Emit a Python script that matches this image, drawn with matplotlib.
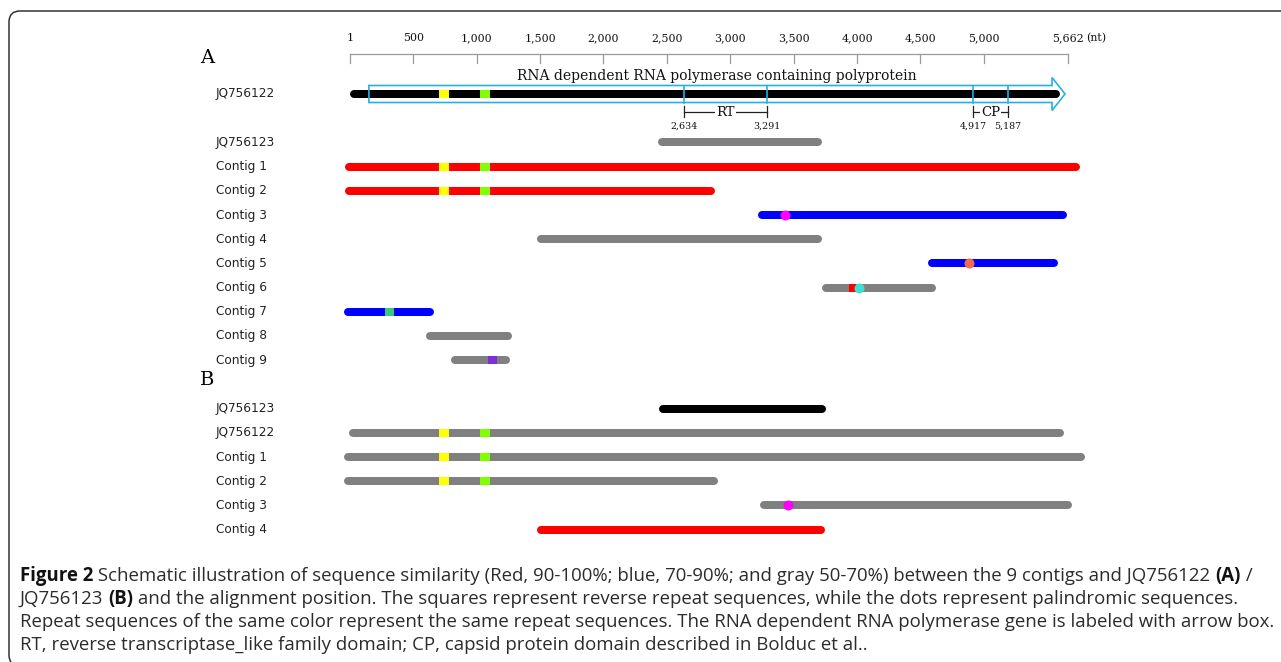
import matplotlib
matplotlib.use("Agg")
import matplotlib.pyplot as plt
from matplotlib.patches import Polygon, FancyBboxPatch
from matplotlib.transforms import IdentityTransform

# ---------------- data ----------------
ruler_ticks = [1, 500, 1000, 1500, 2000, 2500, 3000, 3500, 4000, 4500, 5000, 5662]
ruler_labels = ["1", "500", "1,000", "1,500", "2,000", "2,500", "3,000",
                "3,500", "4,000", "4,500", "5,000", "5,662"]
ruler_unit = "(nt)"

row_labels = ["JQ756122", "JQ756123", "Contig 1", "Contig 2", "Contig 3", "Contig 4",
              "Contig 5", "Contig 6", "Contig 7", "Contig 8", "Contig 9",
              "JQ756123", "JQ756122", "Contig 1", "Contig 2", "Contig 3", "Contig 4"]
row_slots = [0, 2, 3, 4, 5, 6, 7, 8, 9, 10, 11, 13, 14, 15, 16, 17, 18]
bar_starts = [1, 2430, -38, -38, 3218, 1476, 4559, 3723, -46, 600, 798,
              2438, -7, -46, -46, 3234, 1476]
bar_ends = [5600, 3723, 5758, 2880, 5655, 3723, 5584, 4622, 663, 1279, 1263,
            3755, 5631, 5797, 2903, 5694, 3747]
bar_colors = ["#000000", "#808080", "#FF0000", "#FF0000", "#0000FF", "#808080",
              "#0000FF", "#808080", "#0000FF", "#808080", "#808080",
              "#000000", "#808080", "#808080", "#808080", "#808080", "#FF0000"]

# reverse repeat sequences (squares)
repeat_rows = [0, 0, 2, 2, 3, 3, 7, 8, 10, 12, 12, 13, 13, 14, 14]
repeat_starts = [705, 1026, 705, 1026, 705, 1026, 3936, 277, 1089,
                 703, 1030, 703, 1030, 703, 1030]
repeat_ends = [782, 1105, 782, 1105, 782, 1105, 3991, 348, 1160,
               782, 1109, 782, 1109, 782, 1109]
repeat_colors = ["#FFFF00", "#80FF00", "#FFFF00", "#80FF00", "#FFFF00", "#80FF00",
                 "#FF0000", "#3CC87A", "#7F2FD8",
                 "#FFFF00", "#80FF00", "#FFFF00", "#80FF00", "#FFFF00", "#80FF00"]

# palindromic sequences (dots)
palin_rows = [4, 6, 7, 15]
palin_pos = [3431, 4882, 4015, 3455]
palin_colors = ["#FF00FF", "#F26B4A", "#40E0D0", "#FF00FF"]

gene_label = "RNA dependent RNA polymerase containing polyprotein"
gene_start, gene_end = 150, 5640
domain_names = ["RT", "CP"]
domain_starts = [2634, 4917]
domain_ends = [3291, 5187]
domain_start_labels = ["2,634", "4,917"]
domain_end_labels = ["3,291", "5,187"]

panel_labels = ["A", "B"]

caption_lines = [
    [("Figure 2", "bold"),
     (" Schematic illustration of sequence similarity (Red, 90-100%; blue, 70-90%; and gray 50-70%) between the 9 contigs and JQ756122 ", "normal"),
     ("(A)", "bold"), (" /", "normal")],
    [("JQ756123 ", "normal"), ("(B)", "bold"),
     (" and the alignment position. The squares represent reverse repeat sequences, while the dots represent palindromic sequences.", "normal")],
    [("Repeat sequences of the same color represent the same repeat sequences. The RNA dependent RNA polymerase gene is labeled with arrow box.", "normal")],
    [("RT, reverse transcriptase_like family domain; CP, capsid protein domain described in Bolduc et al..", "normal")],
]

# ---------------- layout ----------------
W, H, DPI = 1281, 662, 100
X0_PX = 350.0          # pixel column of nt 1
PX_PER_NT = 0.1268
ROW_Y0, ROW_STEP = 94.0, 24.2
BAR_PX = 8.0
SERIF = "DejaVu Serif"
SANS = "DejaVu Sans"
CAP_FONT = "Open Sans"


def px2nt(x):
    return 1 + (x - X0_PX) / PX_PER_NT


def row_y(i):
    return ROW_Y0 + row_slots[i] * ROW_STEP


fig = plt.figure(figsize=(W / DPI, H / DPI), dpi=DPI)
ax = fig.add_axes([0, 0, 1, 1])
ax.set_xlim(px2nt(0), px2nt(W))
ax.set_ylim(H, 0)
ax.axis("off")

# frame (open to the right and bottom)
frame = FancyBboxPatch((9, -4), 1320, H - 11 + 4,
                       boxstyle="round,pad=0,rounding_size=11",
                       transform=IdentityTransform(), facecolor="none",
                       edgecolor="#333333", lw=1.1)
fig.patches.append(frame)

# ruler
RULER_Y = 54
ax.plot([ruler_ticks[0], ruler_ticks[-1]], [RULER_Y, RULER_Y], color="#9a9a9a", lw=0.9)
for t, lab in zip(ruler_ticks, ruler_labels):
    ax.plot([t, t], [RULER_Y, RULER_Y + 9], color="#9a9a9a", lw=0.9)
    ax.text(t, 38, lab, ha="center", va="center", family=SERIF, fontsize=7.9, color="#111111")
ax.annotate(ruler_unit, xy=(ruler_ticks[-1], 38), xytext=(13.5, 0), textcoords="offset points",
            ha="left", va="center", family=SERIF, fontsize=7.9, color="#111111")

# panel labels
ax.text(px2nt(200), 58, panel_labels[0], ha="left", va="center", family=SERIF, fontsize=14)
ax.text(px2nt(200), 380, panel_labels[1], ha="left", va="center", family=SERIF, fontsize=14)

# row labels
for i, lab in enumerate(row_labels):
    ax.text(px2nt(216), row_y(i), lab, ha="left", va="center", family=SANS,
            fontsize=8.7, color="#222222")

# bars
lw = BAR_PX * 72 / DPI
inset = (BAR_PX / 2) / PX_PER_NT
for i in range(len(row_labels)):
    y = row_y(i)
    ax.plot([bar_starts[i] + inset, bar_ends[i] - inset], [y, y], color=bar_colors[i],
            lw=lw, solid_capstyle="round", zorder=2)

for r, s, e, c in zip(repeat_rows, repeat_starts, repeat_ends, repeat_colors):
    y = row_y(r)
    ax.plot([s, e], [y, y], color=c, lw=lw, solid_capstyle="butt", zorder=3)

for r, p, c in zip(palin_rows, palin_pos, palin_colors):
    y = row_y(r)
    ax.plot([p], [y], "o", color=c, ms=7.2, mec="none", zorder=4)

# gene arrow box
gy = row_y(0)
BODY_H, HEAD_H, HEAD_PX = 8.5, 16.5, 13.0
hl = HEAD_PX / PX_PER_NT
verts = [(gene_start, gy - BODY_H), (gene_end - hl, gy - BODY_H), (gene_end - hl, gy - HEAD_H),
         (gene_end, gy), (gene_end - hl, gy + HEAD_H), (gene_end - hl, gy + BODY_H),
         (gene_start, gy + BODY_H)]
ax.add_patch(Polygon(verts, closed=True, facecolor="none", edgecolor="#2AAEE6", lw=1.2, zorder=5))
ax.text((gene_start + gene_end) / 2, 76, gene_label, ha="center", va="center",
        family=SERIF, fontsize=10, color="#111111")

# domains
for name, s, e, sl, el in zip(domain_names, domain_starts, domain_ends,
                              domain_start_labels, domain_end_labels):
    for x in (s, e):
        ax.plot([x, x], [gy - BODY_H, gy + BODY_H], color="#2AAEE6", lw=1.2, zorder=5)
        ax.plot([x, x], [gy + 12, gy + 23], color="#222222", lw=0.9)
    ax.plot([s, e], [gy + 17.5, gy + 17.5], color="#222222", lw=0.9)
    ax.text((s + e) / 2, gy + 18, name, ha="center", va="center", family=SERIF,
            fontsize=9.5, color="#111111",
            bbox=dict(facecolor="white", edgecolor="none", pad=0.6))
    ax.text(s, gy + 32, sl, ha="center", va="center", family=SERIF, fontsize=6.8, color="#111111")
    ax.text(e, gy + 32, el, ha="center", va="center", family=SERIF, fontsize=6.8, color="#111111")

# caption
renderer = fig.canvas.get_renderer()


def draw_rich(x_px, y_px, pieces, size):
    x = x_px
    arts = []
    for s, wgt in pieces:
        t = fig.text(x / W, 1 - y_px / H, s, fontsize=size, fontweight=wgt, family=CAP_FONT,
                     ha="left", va="center", color="#2b2b2b" if wgt == "normal" else "#111111")
        bb = t.get_window_extent(renderer)
        x += bb.width
        arts.append(t)
    return x - x_px, arts


width, arts = draw_rich(20, 0, caption_lines[2], 12)
for a in arts:
    a.remove()
cap_size = 12 * (1266 - 20) / width

for k, line in enumerate(caption_lines):
    draw_rich(20, 576 + k * 23, line, cap_size)

fig.savefig("out.png", dpi=DPI)
